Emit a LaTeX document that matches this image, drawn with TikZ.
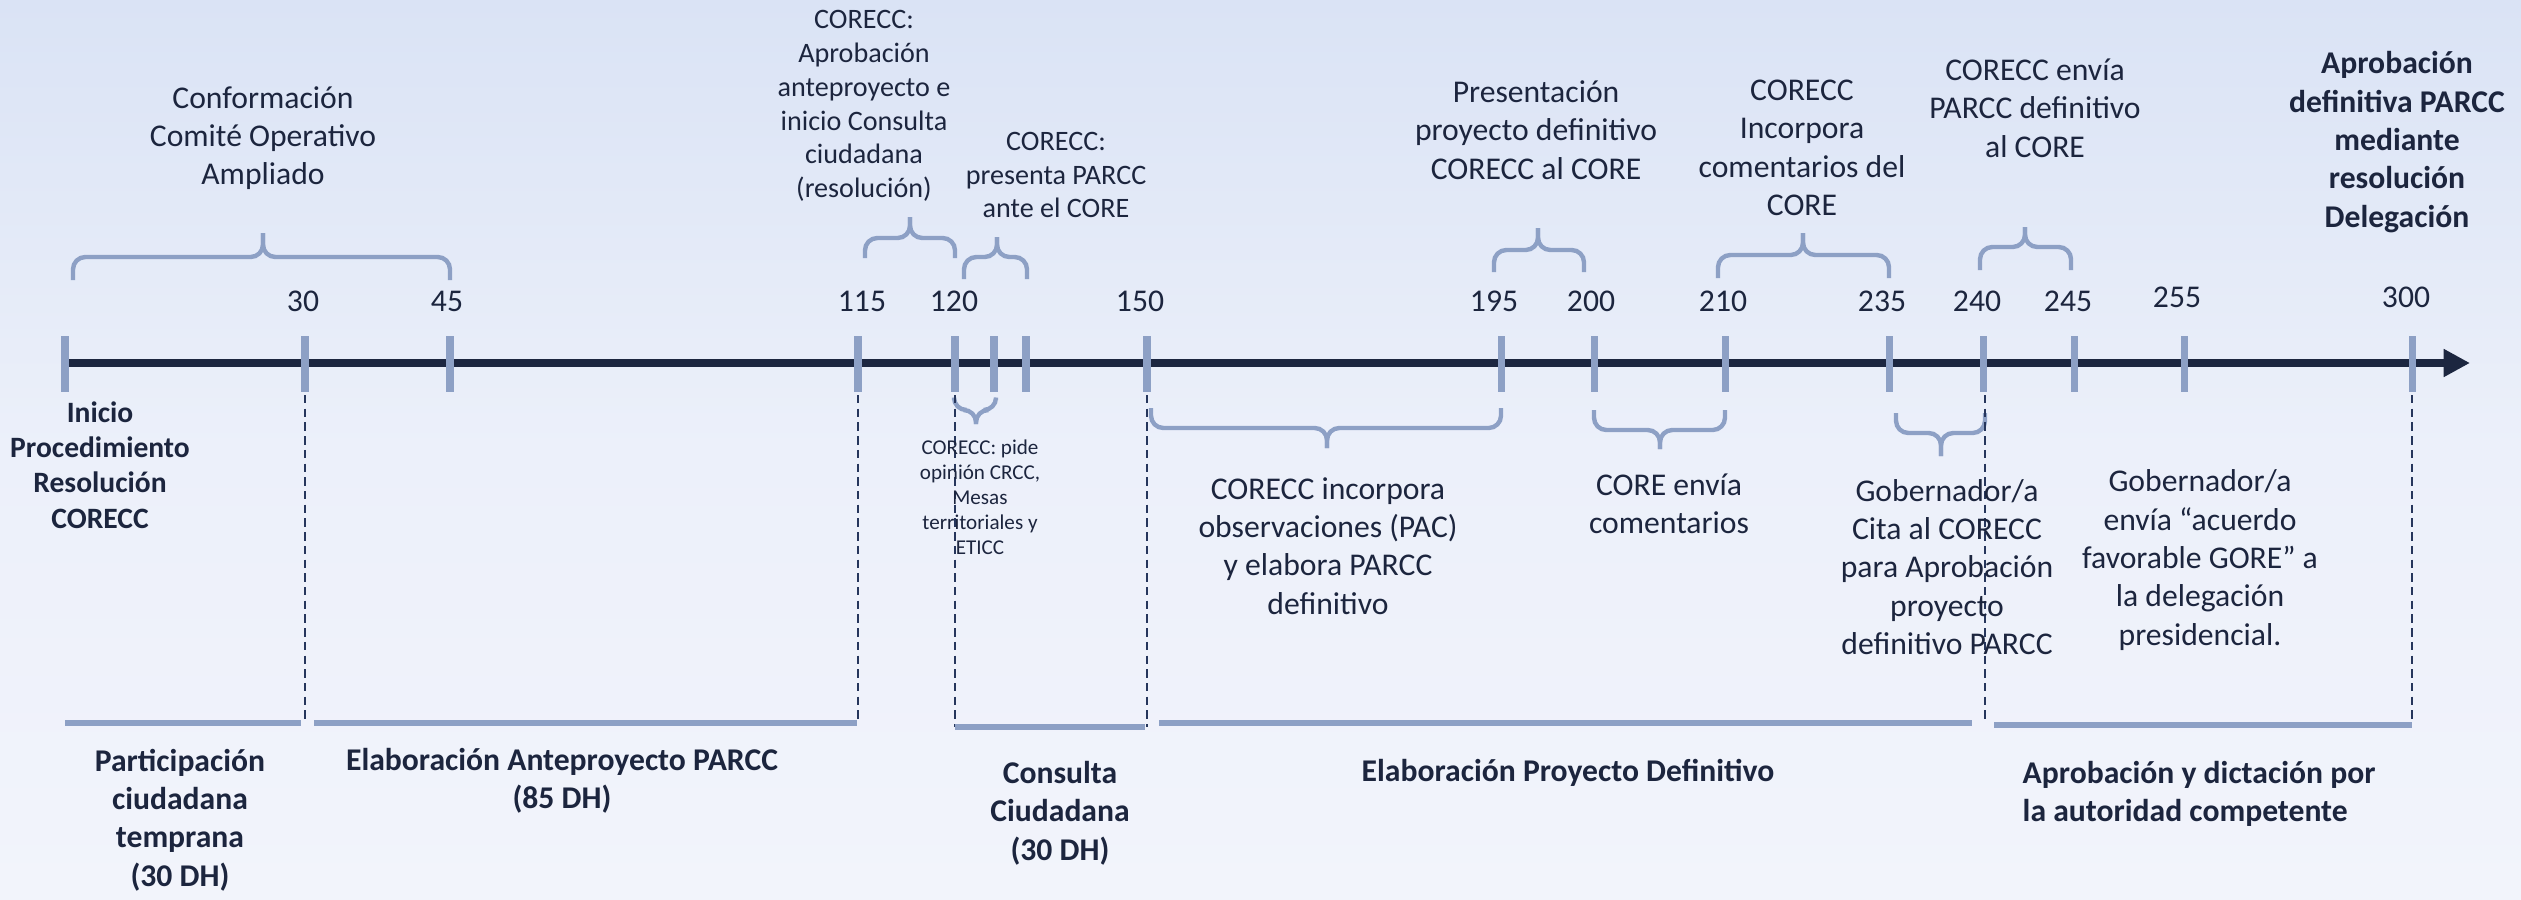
\documentclass[tikz,border=0pt]{standalone}
\usepackage{fontspec}
\setmainfont{Carlito}
\usetikzlibrary{arrows.meta}
\definecolor{txt}{RGB}{28,37,62}
\definecolor{tk}{RGB}{141,160,197}
\definecolor{axc}{RGB}{28,38,64}
\definecolor{dshc}{RGB}{38,54,92}
\definecolor{bgtop}{RGB}{218,227,245}
\definecolor{bgmid}{RGB}{236,240,250}
\definecolor{bgbot}{RGB}{242,244,251}
\newcommand{\tlbrace}[6]{%
  \draw[brc] (#1,#4) |- (#3,#5) -- (#3,#6);
  \draw[brc] (#3,#6) -- (#3,#5) -| (#2,#4);}
\tikzset{
  lbl/.style={font=\fontsize{9}{10.9}\selectfont, text=txt, align=center, inner sep=0pt},
  blbl/.style={font=\fontsize{9}{10.9}\selectfont\bfseries, text=txt, align=center, inner sep=0pt},
  slbl/.style={font=\fontsize{8}{9.6}\selectfont, text=txt, align=center, inner sep=0pt},
  ilbl/.style={font=\fontsize{8.4}{10}\selectfont\bfseries, text=txt, align=center, inner sep=0pt},
  tlbl/.style={font=\fontsize{6}{7.1}\selectfont, text=txt, align=center, inner sep=0pt},
  num/.style={font=\fontsize{9}{10.9}\selectfont, text=txt, inner sep=0pt},
  tickmark/.style={draw=tk, line width=2pt},
  brc/.style={draw=tk, line width=1.25pt, rounded corners=3.5pt},
  phasebar/.style={draw=tk, line width=1.5pt},
  dsh/.style={draw=dshc, line width=0.6pt, dash pattern=on 2.4pt off 1.5pt},
  axisline/.style={draw=axc, line width=2.4pt, -{Triangle[length=7.5pt,width=7.5pt]}}
}
\begin{document}
\begin{tikzpicture}[x=0.01cm,y=-0.01cm]
\useasboundingbox (0,0) rectangle (2521,900);
\shade[top color=bgtop, bottom color=bgbot, middle color=bgmid] (0,0) rectangle (2521,900);

% axis and ticks
\coordinate (axend) at (2470,363);
\foreach \n/\x in {0/65,30/305,45/450,115/858,120/955,a/994,b/1026,150/1147,195/1501,200/1594,210/1725,235/1889,240/1983,245/2074,255/2184,300/2412}{
  \coordinate (t\n) at (\x,363);
}
\draw[axisline] (t0) -- (axend);
\foreach \x in {65,305,450,858,955,994,1026,1147,1501,1594,1725,1889,1983,2074,2184,2412}{
  \draw[tickmark] (\x,336) -- (\x,392);
}

% numbers
\node[num] (n30) at (303,301) {30};
\node[num] (n45) at (447,301) {45};
\node[num] (n115) at (862,301) {115};
\node[num] (n120) at (954,301) {120};
\node[num] (n150) at (1140,301) {150};
\node[num] (n195) at (1494,301) {195};
\node[num] (n200) at (1591,301) {200};
\node[num] (n210) at (1723,301) {210};
\node[num] (n235) at (1882,301) {235};
\node[num] (n240) at (1977,301) {240};
\node[num] (n245) at (2068,301) {245};
\node[num] (n255) at (2177,297) {255};
\node[num] (n300) at (2406,297) {300};

% top braces
\tlbrace{73}{450}{263}{280}{257}{233}
\tlbrace{865}{955}{910}{258}{238}{217}
\tlbrace{964}{1027}{997}{279}{257}{237}
\tlbrace{1494}{1584}{1538}{272}{250}{228}
\tlbrace{1718}{1889}{1803}{278}{255}{233}
\tlbrace{1980}{2071}{2025}{270}{247}{227}
% bottom braces
\tlbrace{954}{996}{976}{400}{410}{424}
\tlbrace{1151}{1501}{1327}{408}{428}{448}
\tlbrace{1594}{1725}{1660}{410}{430}{449}
\tlbrace{1896}{1985}{1941}{413}{433}{456}

% dashed guides
\draw[dsh] (305,395) -- (305,724);
\draw[dsh] (858,395) -- (858,724);
\draw[dsh] (955,395) -- (955,727);
\draw[dsh] (1147,395) -- (1147,727);
\draw[dsh] (1985,395) -- (1985,724);
\draw[dsh] (2412,395) -- (2412,724);

% phase bars
\draw[phasebar] (65,723) -- (301,723);
\draw[phasebar] (314,723) -- (857,723);
\draw[phasebar] (955,727) -- (1145,727);
\draw[phasebar] (1159,723) -- (1972,723);
\draw[phasebar] (1994,725) -- (2412,725);

% top labels
\node[lbl] (conf) at (263,138) {Conformación\\Comité Operativo\\Ampliado};
\node[slbl] (aprob) at (864,106) {CORECC:\\Aprobación\\anteproyecto e\\inicio Consulta\\ciudadana\\(resolución)};
\node[slbl] (pres) at (1056,175) {CORECC:\\presenta PARCC\\ante el CORE};
\node[lbl] (presdef) at (1536,130) {Presentación\\proyecto definitivo\\CORECC al CORE};
\node[lbl] (incorp) at (1802,148) {CORECC\\Incorpora\\comentarios del\\CORE};
\node[lbl] (envia) at (2035,108) {CORECC envía\\PARCC definitivo\\al CORE};
\node[blbl] (aprobdef) at (2397,142) {Aprobación\\definitiva PARCC\\mediante\\resolución\\Delegación};

% lower labels
\node[ilbl] (inicio) at (100,465) {Inicio\\Procedimiento\\Resolución\\CORECC};
\node[tlbl] (pide) at (980,497) {CORECC: pide\\opinión CRCC,\\Mesas\\territoriales y\\ETICC};
\node[lbl] (obs) at (1328,546) {CORECC incorpora\\observaciones (PAC)\\y elabora PARCC\\definitivo};
\node[lbl] (coreenv) at (1669,504) {CORE envía\\comentarios};
\node[lbl] (gobcita) at (1947,567) {Gobernador/a\\Cita al CORECC\\para Aprobación\\proyecto\\definitivo PARCC};
\node[lbl] (gobenv) at (2200,560) {Gobernador/a\\envía “acuerdo\\favorable GORE” a\\la delegación\\presidencial.};

% phase labels
\node[blbl] (partic) at (180,820) {Participación\\ciudadana\\temprana\\(30 DH)};
\node[blbl] (elabante) at (562,781) {Elaboración Anteproyecto PARCC\\(85 DH)};
\node[blbl] (consulta) at (1060,813) {Consulta\\Ciudadana\\(30 DH)};
\node[blbl] (elabdef) at (1568,773) {Elaboración Proyecto Definitivo};
\node[blbl, align=left, anchor=west] (aprobdict) at (2022,794) {Aprobación y dictación por\\la autoridad competente};
\end{tikzpicture}
\end{document}
